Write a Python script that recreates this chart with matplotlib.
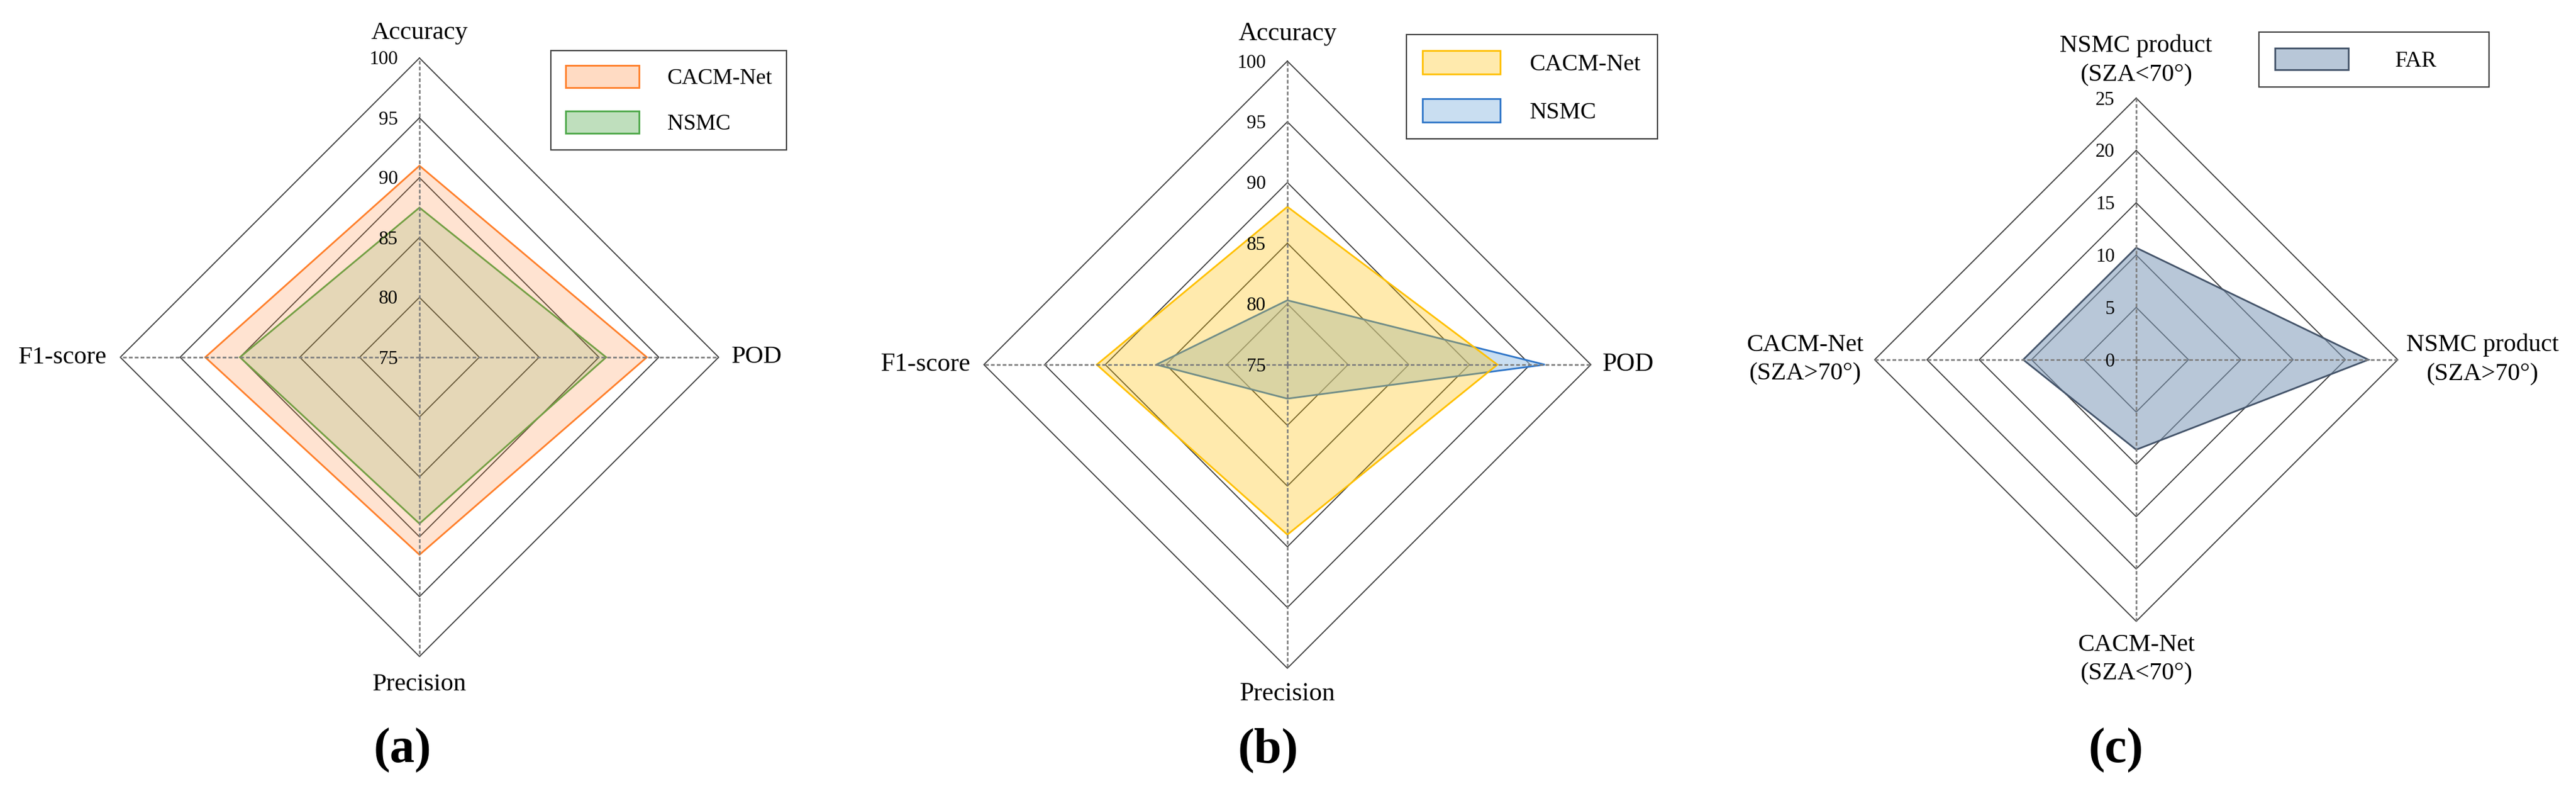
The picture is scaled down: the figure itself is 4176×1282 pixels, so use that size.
import numpy as np
import matplotlib
matplotlib.use("Agg")
import matplotlib.pyplot as plt
from matplotlib.transforms import offset_copy
from matplotlib.colors import to_rgba
from matplotlib.patches import Patch

plt.rcParams['font.family'] = ['Liberation Serif', 'DejaVu Serif']

W, H, DPI = 4176, 1282, 100

# ---------------- data ----------------
metrics_ab = ['Accuracy', 'POD', 'Precision', 'F1-score']   # clockwise from top
ticks_ab = [75, 80, 85, 90, 95, 100]

a_cacm = [91.0, 94.0, 91.5, 92.9]
a_nsmc = [87.5, 90.6, 88.9, 90.0]

b_cacm = [88.0, 92.3, 89.0, 90.7]
b_nsmc = [80.3, 96.2, 77.8, 85.8]

axes_c = ['NSMC product\n(SZA<70°)', 'NSMC product\n(SZA>70°)',
          'CACM-Net\n(SZA<70°)', 'CACM-Net\n(SZA>70°)']
ticks_c = [0, 5, 10, 15, 20, 25]
c_far = [10.7, 22.2, 8.6, 10.8]

series_a = ['CACM-Net', 'NSMC']
series_b = ['CACM-Net', 'NSMC']
series_c = ['FAR']

fig = plt.figure(figsize=(W / DPI, H / DPI), dpi=DPI)

THETA = np.deg2rad([0, 90, 180, 270])


def closed(v):
    return list(v) + [v[0]]


def add_radar(cx, cy, R, ticks, tfs=22.5):
    ax = fig.add_axes([(cx - R) / W, (H - cy - R) / H, 2 * R / W, 2 * R / H],
                      projection='polar')
    ax.set_theta_offset(np.pi / 2)
    ax.set_theta_direction(-1)
    ax.grid(False)
    ax.spines['polar'].set_visible(False)
    ax.set_xticks([])
    ax.set_yticks([])
    ax.patch.set_alpha(0)
    ax.set_ylim(ticks[0], ticks[-1])
    th = closed(THETA)
    for t in ticks[1:]:
        ax.plot(th, [t] * 5, color='#383838', lw=1.25, zorder=1, clip_on=False)
    for t in THETA:
        ax.plot([t, t], [ticks[0], ticks[-1]], color='#7f7f7f', lw=1.9,
                ls=(0, (2.3, 1.3)), zorder=5, clip_on=False)
    for t in ticks:
        tr = offset_copy(ax.transData, fig=fig, x=-35, y=-10.5, units='dots')
        ax.text(0, t, str(t), transform=tr, ha='right', va='baseline',
                fontsize=tfs, zorder=6)
    return ax


def series(ax, vals, fc, fa, ec, lw=2.0, z=3):
    ax.fill(closed(THETA), closed(vals), facecolor=to_rgba(fc, fa),
            edgecolor=ec, lw=lw, zorder=z, clip_on=False)


def axis_labels(ax, labels, rmax, offs, fs, c_mode=False):
    (ty, rx, by, lx) = offs
    kw = dict(fontsize=fs, zorder=6, multialignment='center', linespacing=1.35)
    va_top = 'bottom' if c_mode else 'baseline'
    va_bot = 'top' if c_mode else 'baseline'
    ax.text(THETA[0], rmax, labels[0], ha='center', va=va_top,
            transform=offset_copy(ax.transData, fig=fig, x=0, y=ty, units='dots'), **kw)
    ax.text(THETA[1], rmax, labels[1], ha='left', va='center',
            transform=offset_copy(ax.transData, fig=fig, x=rx, y=0, units='dots'), **kw)
    ax.text(THETA[2], rmax, labels[2], ha='center', va=va_bot,
            transform=offset_copy(ax.transData, fig=fig, x=0, y=by, units='dots'), **kw)
    ax.text(THETA[3], rmax, labels[3], ha='right', va='center',
            transform=offset_copy(ax.transData, fig=fig, x=lx, y=0, units='dots'), **kw)


def legend(ax, handles, labels, box, fs, hl, hh, ls, hp, bp):
    x0, y0, x1, y1 = box
    leg = ax.legend(handles, labels, loc='upper left',
                    bbox_to_anchor=(x0 / W, 1 - y1 / H, (x1 - x0) / W, (y1 - y0) / H),
                    bbox_transform=fig.transFigure, mode='expand', borderaxespad=0,
                    fontsize=fs, handlelength=hl, handleheight=hh, labelspacing=ls,
                    handletextpad=hp, borderpad=bp, fancybox=False, framealpha=1)
    leg.get_frame().set_edgecolor('#404040')
    leg.get_frame().set_linewidth(1.5)
    return leg


# ---------------- panel (a) ----------------
axa = add_radar(680, 579, 485, ticks_ab)
series(axa, a_nsmc, '#4EA84A', 0.18, '#4EA84A')
series(axa, a_cacm, '#FF7F2A', 0.21, '#FF7F2A')
axis_labels(axa, metrics_ab, 100, (31, 21, -55, -22), 29.5)
legend(axa,
       [Patch(facecolor=to_rgba('#FF7F2A', 0.28), edgecolor='#FF7F2A', lw=2),
        Patch(facecolor=to_rgba('#4EA84A', 0.36), edgecolor='#4EA84A', lw=2)],
       series_a, (893, 82, 1275, 248), 26, 3.28, 1.14, 1.0, 1.28, 0.67)

# ---------------- panel (b) ----------------
axb = add_radar(2087, 591, 492, ticks_ab)
series(axb, b_nsmc, '#9DC3E6', 0.55, '#2E75C8')
series(axb, b_cacm, '#FFC000', 0.32, '#FFC000')
axis_labels(axb, metrics_ab, 100, (34, 19, -52, -21), 30)
legend(axb,
       [Patch(facecolor=to_rgba('#FFC000', 0.32), edgecolor='#FFC000', lw=2),
        Patch(facecolor=to_rgba('#9DC3E6', 0.55), edgecolor='#2E75C8', lw=2)],
       series_b, (2280, 56, 2687, 233), 27.5, 3.3, 1.16, 1.0, 1.25, 0.67)

# ---------------- panel (c) ----------------
axc = add_radar(3463, 583, 424, ticks_c)
series(axc, c_far, '#7F9AB8', 0.55, '#44546A')
axis_labels(axc, axes_c, 25, (19, 14, -20, -18), 29, c_mode=True)
legend(axc,
       [Patch(facecolor=to_rgba('#7F9AB8', 0.55), edgecolor='#44546A', lw=2)],
       series_c, (3662, 52, 4035, 142), 26, 3.3, 1.14, 1.0, 2.1, 0.71)

# ---------------- panel letters ----------------
for x, s in [(652, '(a)'), (2056, '(b)'), (3430, '(c)')]:
    fig.text(x / W, 1 - 1216 / H, s, ha='center', va='center',
             fontsize=58, fontweight='bold')

fig.savefig('out.png', dpi=DPI)
